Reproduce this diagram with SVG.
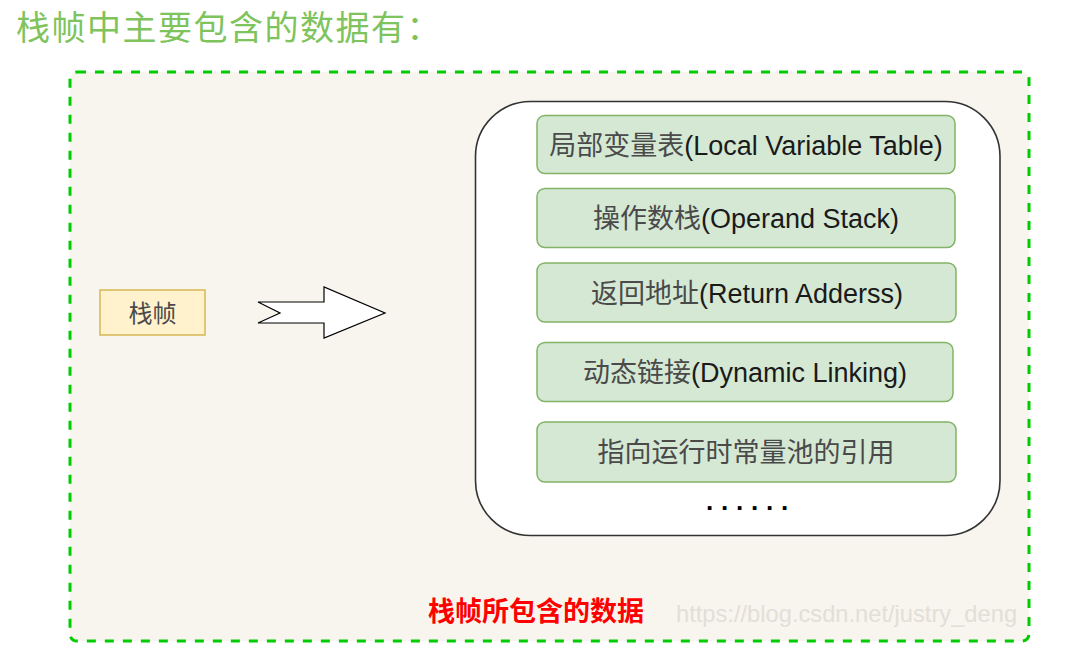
<svg xmlns="http://www.w3.org/2000/svg" width="1067" height="660" viewBox="0 0 1067 660">
<style>
  .lat { font-family: "Liberation Sans", "Noto Sans CJK SC", sans-serif; }
  .cjk { font-family: "Noto Sans CJK SC", "Liberation Sans", sans-serif; }
  .item rect { fill: #d5e8d4; stroke: #82b366; stroke-width: 1.5; }
  .item text { font-size: 27px; text-anchor: middle; fill: #1a1a1a; }
  .zh { fill: #4a4a4a; font-family: "Noto Sans CJK SC", sans-serif; }
</style>
<rect x="0" y="0" width="1067" height="660" fill="#ffffff"/>
<text x="16" y="40" class="cjk" font-size="34" letter-spacing="1.5" fill="#7ec35c">栈帧中主要包含的数据有：</text>
<g id="frame">
  <rect x="70" y="72" width="959" height="569" rx="7" fill="#f8f5ee" stroke="#00cc00" stroke-width="3" stroke-dasharray="9 9"/>
  <text x="428" y="621" class="cjk" font-size="27" font-weight="bold" fill="#ff0000">栈帧所包含的数据</text>
  <text x="676" y="622" class="lat" font-size="23.7" fill="#e2dfd8">https://blog.csdn.net/justry_deng</text>
</g>
<g id="stackframe">
  <rect x="100" y="290" width="105" height="45" fill="#fff2cc" stroke="#d6b656" stroke-width="1.5"/>
  <text x="152.5" y="322" class="cjk" font-size="24" text-anchor="middle" fill="#4a4a4a">栈帧</text>
</g>
<g id="connectors">
  <path d="M258,302 L324,302 L324,287 L385,313 L324,338 L324,323 L258,323 L280,313 Z" fill="#ffffff" stroke="#000000" stroke-width="1.2" stroke-linejoin="miter"/>
</g>
<g id="container">
  <rect x="475.5" y="101.5" width="524.5" height="434" rx="55" ry="55" fill="#ffffff" stroke="#333333" stroke-width="1.6"/>
  <text x="706" y="510" class="lat" font-size="26" font-weight="bold" letter-spacing="7.8" fill="#000000">......</text>
</g>
<g id="item1" class="item">
  <rect x="537" y="115.5" width="418" height="58" rx="8"/>
  <text x="746" y="154.5" class="lat"><tspan class="zh">局部变量表</tspan>(Local Variable Table)</text>
</g>
<g id="item2" class="item">
  <rect x="537" y="188.5" width="418" height="59" rx="8"/>
  <text x="746" y="228" class="lat"><tspan class="zh">操作数栈</tspan>(Operand Stack)</text>
</g>
<g id="item3" class="item">
  <rect x="537" y="263" width="419" height="59" rx="8"/>
  <text x="747" y="302.5" class="lat"><tspan class="zh">返回地址</tspan>(Return Adderss)</text>
</g>
<g id="item4" class="item">
  <rect x="537" y="342.5" width="416" height="59" rx="8"/>
  <text x="745" y="382" class="lat"><tspan class="zh">动态链接</tspan>(Dynamic Linking)</text>
</g>
<g id="item5" class="item">
  <rect x="537" y="422" width="419" height="60" rx="8"/>
  <text x="746" y="461.5" class="lat"><tspan class="zh">指向运行时常量池的引用</tspan></text>
</g>
</svg>
